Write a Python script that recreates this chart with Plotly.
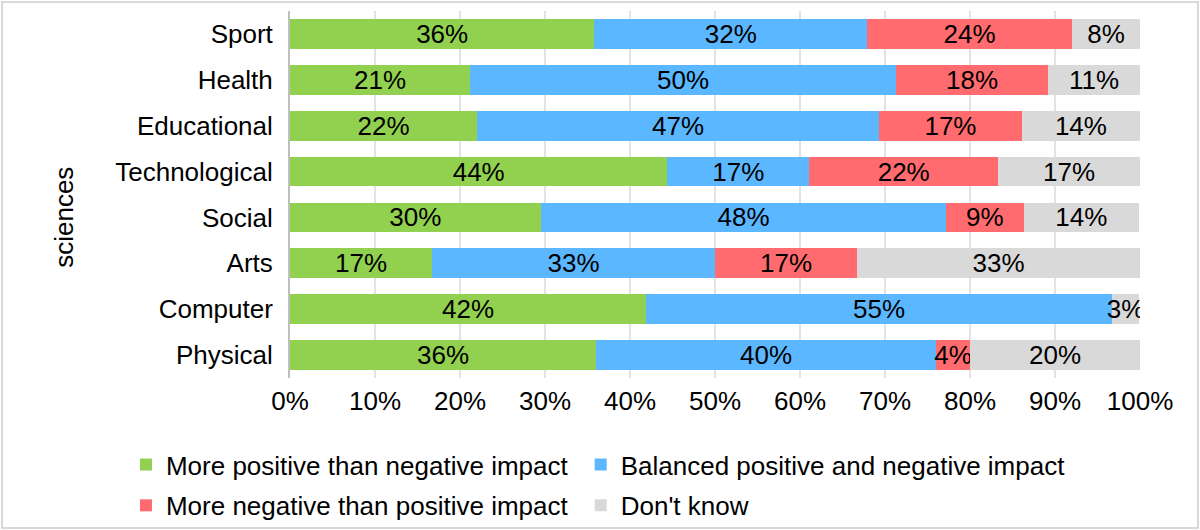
import plotly.graph_objects as go

categories = ['Sport', 'Health', 'Educational', 'Technological', 'Social', 'Arts', 'Computer', 'Physical']

more_positive = [35.8, 21.2, 22.0, 44.4, 29.5, 16.7, 41.9, 36.0]
balanced = [32.1, 50.1, 47.3, 16.7, 47.7, 33.3, 54.8, 40.0]
more_negative = [24.1, 17.9, 16.8, 22.2, 9.1, 16.7, None, 4.0]
dont_know = [8.0, 10.8, 13.9, 16.7, 13.6, 33.3, 3.2, 20.0]

series_names = ['More positive than negative impact', 'Balanced positive and negative impact',
                'More negative than positive impact', "Don't know"]
colors = ['#92D050', '#5BB7FF', '#FF6B6E', '#D9D9D9']
legend_ids = ['legend', 'legend2', 'legend', 'legend2']

FONT = 'Liberation Sans, Arial, sans-serif'
FS = 26

fig = go.Figure()
for name, vals, col, lg in zip(series_names, [more_positive, balanced, more_negative, dont_know],
                               colors, legend_ids):
    fig.add_trace(go.Bar(
        y=categories, x=vals, name=name, orientation='h',
        marker=dict(color=col, line=dict(width=0)),
        texttemplate='%{x:.0f}%', textposition='inside', insidetextanchor='middle',
        constraintext='none', textangle=0,
        insidetextfont=dict(color='black', size=FS, family=FONT),
        legend=lg, legendgroup=name,
        hoverinfo='skip'))

legend_style = dict(orientation='v', xanchor='left', y=-0.172, yanchor='top',
                    bgcolor='rgba(0,0,0,0)', tracegroupgap=4, traceorder='grouped',
                    font=dict(size=FS, color='black'))

fig.update_layout(
    barmode='stack', bargap=0.35,
    width=1200, height=530,
    margin=dict(l=290, r=60, t=11, b=152, autoexpand=False),
    plot_bgcolor='white', paper_bgcolor='white',
    font=dict(family=FONT, size=FS, color='black'),
    showlegend=True,
    legend=dict(x=-0.193, **legend_style),
    legend2=dict(x=0.342, **legend_style),
)
fig.update_xaxes(range=[0, 100], dtick=10, ticksuffix='%', showgrid=True,
                 gridcolor='#E3E3E3', gridwidth=1.5, zeroline=False, showline=False,
                 ticks='', ticklabelstandoff=5, fixedrange=True)
fig.update_yaxes(categoryorder='array', categoryarray=categories, autorange='reversed',
                 showline=True, linecolor='#BFBFBF', linewidth=2, showgrid=False,
                 ticks='', ticklabelstandoff=10, fixedrange=True)

# y axis title
fig.add_annotation(text='sciences', textangle=-90, xref='paper', yref='paper',
                   x=-0.266, y=0.439, xanchor='center', yanchor='middle',
                   showarrow=False, font=dict(size=FS))

# outer chart border
fig.add_shape(type='rect', xref='paper', yref='paper',
              x0=-288 / 850, x1=908 / 850, y0=-150 / 367, y1=376 / 367,
              line=dict(color='#D9D9D9', width=2), fillcolor='rgba(0,0,0,0)', layer='below')

fig.write_html('out.html', config={'displayModeBar': False},
               post_script="document.body.style.margin='0';")
